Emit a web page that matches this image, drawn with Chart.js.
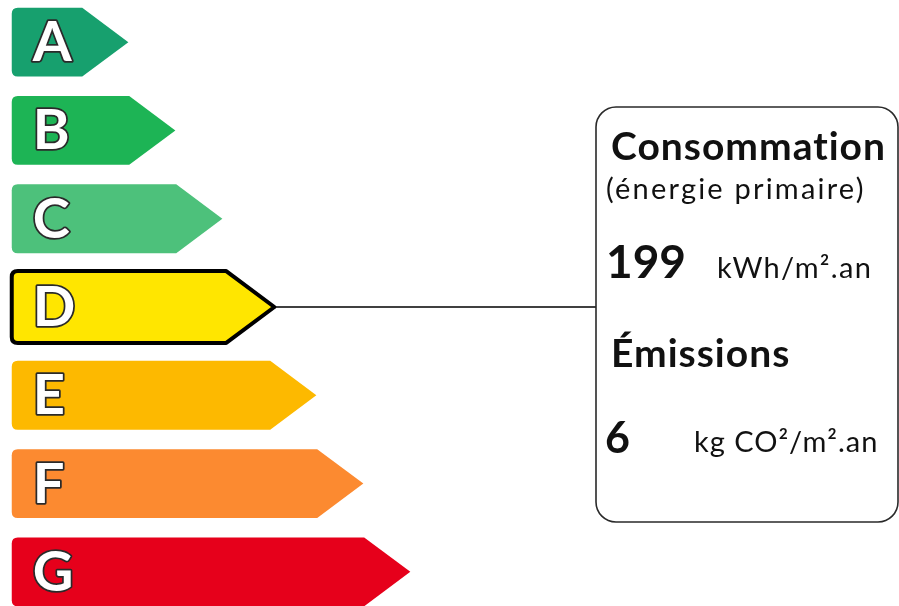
<!DOCTYPE html>
<html>
<head>
<meta charset="utf-8">
<script src="https://cdn.jsdelivr.net/npm/chart.js@4.4.1/dist/chart.umd.min.js"></script>
<style>
    html, body { margin: 0; padding: 0; background: #fff; overflow: hidden; }
    #wrap { position: absolute; left: 0; top: -2px; width: 899px; height: 618px; }
</style>
</head>
<body>
<div id="wrap"><canvas id="dpe"></canvas></div>
<script>
// DPE classes, bar length = rank of the class
const classes = ['A', 'B', 'C', 'D', 'E', 'F', 'G'];
const classRank = [1, 2, 3, 4, 5, 6, 7];
const classColors = ['#17a06e', '#1db455', '#4dc17b', '#ffe600', '#fdb900', '#fc8a30', '#e6001b'];
const currentClass = 'D';

const consumptionTitle = 'Consommation';
const consumptionSub = '(énergie primaire)';
const consumption = 199;
const consumptionUnit = 'kWh/m².an';
const emissionsTitle = 'Émissions';
const emissions = 6;
const emissionsUnit = 'kg CO²/m².an';

const FONT = 'Lato, "Open Sans", sans-serif';

function arrowPath(ctx, base, x, y, h) {
    const top = y - h / 2, bottom = y + h / 2, tip = x + h * 0.67, r = 6;
    ctx.beginPath();
    ctx.moveTo(base + r, top);
    ctx.lineTo(x, top);
    ctx.lineTo(tip, y);
    ctx.lineTo(x, bottom);
    ctx.lineTo(base + r, bottom);
    ctx.quadraticCurveTo(base, bottom, base, bottom - r);
    ctx.lineTo(base, top + r);
    ctx.quadraticCurveTo(base, top, base + r, top);
    ctx.closePath();
}

const arrows = {
    id: 'arrows',
    beforeDatasetDraw(chart, args) {
        const ctx = chart.ctx;
        const ds = chart.data.datasets[args.index];
        ctx.save();
        args.meta.data.forEach((bar, i) => {
            const { x, y, base, height } = bar.getProps(['x', 'y', 'base', 'height'], true);
            const selected = classes[i] === currentClass;
            arrowPath(ctx, base, selected ? x + 3 : x, y, selected ? height + 3 : height);
            ctx.fillStyle = ds.backgroundColor[i];
            ctx.fill();
            if (selected) {
                ctx.lineWidth = 4;
                ctx.lineJoin = 'round';
                ctx.strokeStyle = '#000';
                ctx.stroke();
            }
            ctx.font = 'bold 56px ' + FONT;
            ctx.textAlign = 'left';
            ctx.textBaseline = 'middle';
            ctx.lineJoin = 'round';
            ctx.lineWidth = 3.5;
            ctx.strokeStyle = '#2a2a2a';
            ctx.strokeText(classes[i], base + 21, y + 1);
            ctx.fillStyle = '#fff';
            ctx.fillText(classes[i], base + 21, y + 1);
        });
        ctx.restore();
        return false;
    }
};

const infoBox = {
    id: 'infoBox',
    afterDatasetsDraw(chart) {
        const ctx = chart.ctx;
        const meta = chart.getDatasetMeta(0);
        const bar = meta.data[classes.indexOf(currentClass)];
        const { x, y, height } = bar.getProps(['x', 'y', 'height'], true);
        const left = 596, top = 109, right = 898, bottom = 524, r = 20;

        ctx.save();
        // connector from the selected class
        ctx.strokeStyle = '#000';
        ctx.lineWidth = 1.5;
        ctx.beginPath();
        ctx.moveTo(x + 3 + (height + 3) * 0.67, y);
        ctx.lineTo(left, y);
        ctx.stroke();

        // rounded box
        ctx.beginPath();
        ctx.roundRect(left, top, right - left, bottom - top, r);
        ctx.fillStyle = '#fff';
        ctx.fill();
        ctx.lineWidth = 1.6;
        ctx.strokeStyle = '#2a2a2a';
        ctx.stroke();

        ctx.fillStyle = '#111';
        ctx.textAlign = 'left';
        ctx.textBaseline = 'alphabetic';

        ctx.letterSpacing = '1px';
        ctx.font = 'bold 39px ' + FONT;
        ctx.fillText(consumptionTitle, 611, 162);
        ctx.fillText(emissionsTitle, 611, 369);

        ctx.letterSpacing = '2.2px';
        ctx.font = '29px ' + FONT;
        ctx.fillText(consumptionSub, 606, 201);

        ctx.letterSpacing = '1.3px';
        ctx.fillText(consumptionUnit, 717, 280);
        ctx.letterSpacing = '1px';
        ctx.fillText(emissionsUnit, 694, 454);

        ctx.letterSpacing = '0px';
        ctx.font = 'bold 46px ' + FONT;
        ctx.fillText(String(consumption), 606, 280);
        ctx.font = 'bold 43px ' + FONT;
        ctx.fillText(String(emissions), 605, 455);
        ctx.restore();
    }
};

new Chart(document.getElementById('dpe'), {
    type: 'bar',
    data: {
        labels: classes,
        datasets: [{
            data: classRank.map((v) => [-0.5, v]),
            backgroundColor: classColors,
            categoryPercentage: 1,
            barPercentage: 0.78,
        }],
    },
    options: {
        indexAxis: 'y',
        responsive: true,
        maintainAspectRatio: false,
        animation: false,
        events: [],
        layout: { padding: 0 },
        plugins: { legend: { display: false }, tooltip: { enabled: false } },
        scales: {
            x: { type: 'linear', min: -0.75, max: 18.38, display: false },
            y: { display: false },
        },
    },
    plugins: [arrows, infoBox],
});
</script>
</body>
</html>
